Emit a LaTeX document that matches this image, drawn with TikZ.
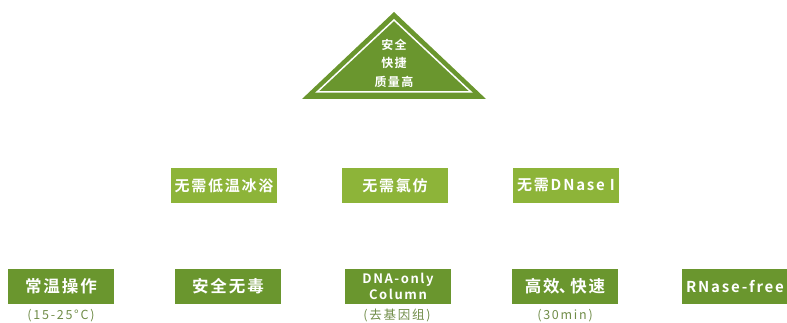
\documentclass[tikz,border=0pt]{standalone}
\usepackage{fontspec}
\newfontfamily\cjkbold{Noto Sans CJK SC Bold}[LetterSpace=12]
\newfontfamily\cjkreg{Noto Sans CJK SC}[LetterSpace=14]
\definecolor{hoja}{RGB}{106,150,46}
\definecolor{brote}{RGB}{141,180,57}
\definecolor{nota}{RGB}{112,140,72}
\tikzset{
  caja/.style={fill=#1, text=white, minimum width=106pt, minimum height=35pt,
    inner sep=0pt, align=center},
  fila/.style={caja=brote, font=\cjkbold\fontsize{15}{18}\selectfont},
  base/.style={caja=hoja, font=\cjkbold\fontsize{16.5}{19}\selectfont},
  nota/.style={text=nota, font=\cjkreg\fontsize{12.5}{14}\selectfont, inner sep=0pt}
}
\begin{document}
\begin{tikzpicture}[x=1pt,y=-1pt]
        \useasboundingbox (0,0) rectangle (787,323);
        % Triangulo
        \fill[hoja] (394,12)--(486,99)--(302,99)--cycle;
        \draw[white,line width=1.5pt] (394,20)--(471,92)--(317,92)--cycle;
        \node[text=white, align=center, font=\cjkbold\fontsize{12}{18.5}\selectfont] (cima) at (394,63) {安全\\快捷\\质量高};
        % Fila media
        \node[fila] (bano) at (224,185.5) {无需低温冰浴};
        \node[fila] (cloro) at (395,185.5) {无需氯仿};
        \node[fila] (dnasa) at (566,185.5) {无需DNase\,\,I};
        % Fila inferior
        \node[base] (temp) at (61,286.5) {常温操作};
        \node[base] (seguro) at (228,286.5) {安全无毒};
        \node[base, font=\cjkbold\fontsize{13}{16}\selectfont] (columna) at (398,286.5) {DNA-only\\Column};
        \node[base] (rapido) at (565,286.5) {高效\kern-1pt、\kern-5pt快速};
        \node[base, font=\cjkbold\fontsize{15}{18}\selectfont] (libre) at (735,286.5) {RNase-free};
        % Notas
        \node[nota] (ntemp) at (61,315.5) {(15-25°C)};
        \node[nota] (ncol) at (397,315.5) {(去基因组)};
        \node[nota] (nrap) at (565,315.5) {(30min)};
    \end{tikzpicture}
\end{document}
